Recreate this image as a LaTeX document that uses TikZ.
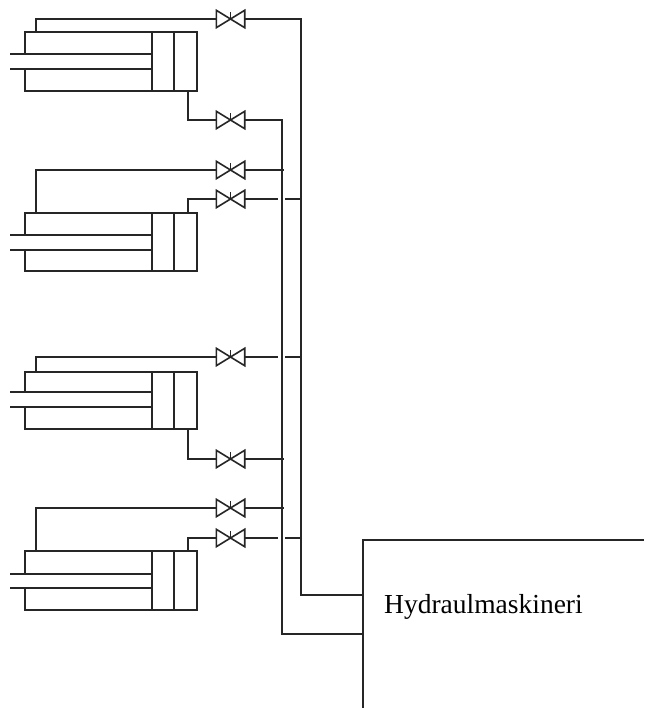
\documentclass[tikz,border=0pt]{standalone}
\usepackage{fontspec}
\setmainfont{Liberation Serif}
\usetikzlibrary{calc}
\tikzset{
    pipe/.style={line width=1.2pt, black!85},
    valve/.style={
        inner sep=0, minimum width=28pt, minimum height=17pt,
        append after command={\pgfextra{
            \draw[pipe, line width=1.6pt, line join=miter]
                (\tikzlastnode.north west) -- (\tikzlastnode.south east)
                -- (\tikzlastnode.north east) -- (\tikzlastnode.south west) -- cycle;
            \draw[pipe, line width=1.6pt] ($(\tikzlastnode.north)+(0,2)$) -- (\tikzlastnode.center);
        }}
    }
}
\begin{document}
\begin{tikzpicture}[x=1pt, y=-1pt]
    \useasboundingbox (0,0) rectangle (644,708);

    % Cylinders
    \foreach \name/\ytop/\ybot/\yrodA/\yrodB/\yport in {
        cyla/32/91/54/69/91,
        cylb/213/271/235/250/213,
        cylc/372/429/392/407/429,
        cyld/551/610/574/588/551} {
        \draw[pipe] (25,\yrodA) -- (25,\ytop) -- (197,\ytop) -- (197,\ybot)
            -- (25,\ybot) -- (25,\yrodB);
        \draw[pipe] (152,\ytop) -- (152,\ybot);
        \draw[pipe] (174,\ytop) -- (174,\ybot);
        % Piston rod
        \draw[pipe] (10,\yrodA) -- (152,\yrodA);
        \draw[pipe] (10,\yrodB) -- (152,\yrodB);
        % Ports
        \coordinate (\name rear) at (36,\ytop);
        \coordinate (\name front) at (188,\yport);
    }

    % Valves
    \foreach \name/\y in {va/19,vb/120,vc/170,vd/199,ve/357,vf/459,vg/508,vh/538} {
        \node[valve] (\name) at (230.5,\y) {};
    }

    % Machinery box
    \coordinate (boxtop) at (363,540);
    \coordinate (boxright) at (644,540);
    \coordinate (boxbottom) at (363,708);
    \coordinate (boxinA) at (363,595);
    \coordinate (boxinB) at (363,634);
    \coordinate (mainA) at (301,595);
    \coordinate (mainB) at (282,634);
    \draw[pipe] (boxright) -- (boxtop) -- (boxbottom);
    \node[anchor=base west, inner sep=0, font=\fontsize{27.5}{32}\selectfont] (machinery)
        at (384,613) {Hydraulmaskineri};

    % Cylinders to valves
    \draw[pipe] (cylarear) |- (va.west);
    \draw[pipe] (cylafront) |- (vb.west);
    \draw[pipe] (cylbrear) |- (vc.west);
    \draw[pipe] (cylbfront) |- (vd.west);
    \draw[pipe] (cylcrear) |- (ve.west);
    \draw[pipe] (cylcfront) |- (vf.west);
    \draw[pipe] (cyldrear) |- (vg.west);
    \draw[pipe] (cyldfront) |- (vh.west);

    % Main lines
    \draw[pipe] (va.east) -| (mainA) -- (boxinA);
    \draw[pipe] (vb.east) -| (mainB) -- (boxinB);

    % Branches to the near main
    \foreach \name in {vc,vf,vg} {
        \draw[pipe] (\name.east) -- ([xshift=2pt]\name.east -| mainB);
    }

    % Branches crossing the near main
    \foreach \name in {vd,ve,vh} {
        \draw[pipe] (\name.east) -- ([xshift=-4pt]\name.east -| mainB);
        \draw[pipe] ([xshift=3pt]\name.east -| mainB) -- (\name.east -| mainA);
    }
\end{tikzpicture}
\end{document}
